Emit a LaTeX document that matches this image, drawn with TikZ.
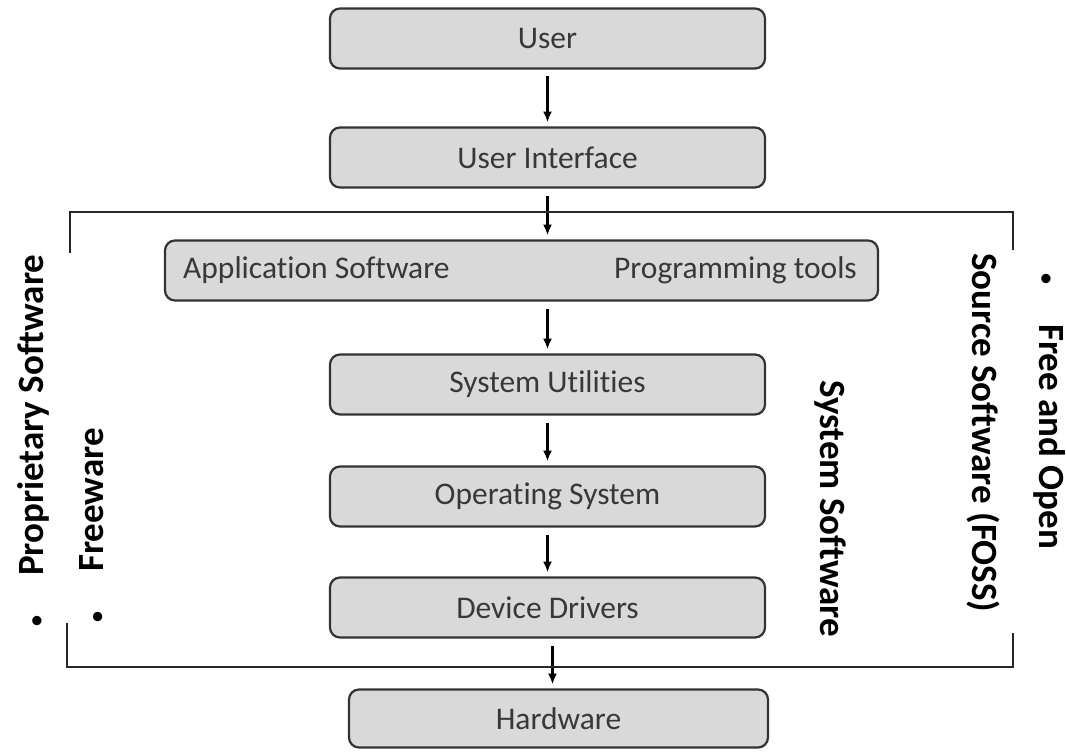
\documentclass[tikz,border=0pt]{standalone}
\usepackage{fontspec}
\setmainfont{Carlito}[Ligatures=NoCommon]
\usetikzlibrary{positioning,arrows.meta}
\definecolor{boxfill}{HTML}{D9D9D9}
\definecolor{boxline}{HTML}{333333}
\definecolor{boxtext}{HTML}{383838}
\newcommand{\smallbullet}{{\fontsize{22}{22}\selectfont\textbullet}}
\tikzset{
>={Latex[length=11pt,width=9pt]},
  layerbox/.style={
    rectangle,
    rounded corners=10pt,
    fill=boxfill,
    draw=boxline, line width=2.2pt,
    text=boxtext,
    minimum width=435pt,
    minimum height=60pt,
    inner sep=0pt, outer sep=0pt,
    font=\fontsize{31.5}{38}\selectfont},
  boxlabel/.style={inner sep=0pt, text=boxtext, font=\fontsize{31.5}{38}\selectfont},
  myarrow/.style={draw, line width=2.2pt, ->, shorten <=8pt, shorten >=5pt},
  bracket/.style={draw=black!85, line width=2.8pt},
  sidelabel/.style={inner sep=0pt, text=black, font=\fontsize{37}{44}\selectfont\bfseries},
}
\begin{document}
\begin{tikzpicture}[x=1pt, y=-1pt, node distance=52pt]
    \useasboundingbox (0,0) rectangle (1066,752);

    % layers
    \node[layerbox] (user) at (547.5,38.5) {User};
    \node[layerbox, below=59pt of user] (ui) {User Interface};
    \node[layerbox, minimum width=713pt, below=53pt of ui, xshift=-26pt] (apps) {};
    \node[boxlabel, anchor=west] (appsw) at ([xshift=18pt]apps.west) {Application Software};
    \node[boxlabel, anchor=east] (progtools) at ([xshift=-21pt]apps.east) {Programming tools};
    \node[layerbox, below=54pt of apps, xshift=26pt] (sysutil) {System Utilities};
    \node[layerbox, below=52pt of sysutil] (os) {Operating System};
    \node[layerbox, below=51pt of os] (drivers) {Device Drivers};
    \node[layerbox, minimum width=419pt, minimum height=58pt, below=52pt of drivers, xshift=11pt] (hw) {Hardware};

    \draw[myarrow] (user.south) -- (ui.north);
    \draw[myarrow] (ui.south) -- (ui.south |- apps.north);
    \draw[myarrow] (apps.south -| sysutil.north) -- (sysutil.north);
    \draw[myarrow] (sysutil.south) -- (os.north);
    \draw[myarrow] (os.south) -- (drivers.north);
    \draw[myarrow] ([xshift=5pt]drivers.south) -- ([xshift=5pt]drivers.south |- hw.north);

    % brackets
    \coordinate (topL) at (70,253);
    \coordinate (topR) at (1013,250);
    \coordinate (botL) at (67,623);
    \coordinate (botR) at (1013,633);
    \draw[bracket] (topL) |- (1013,212) -- (topR);
    \draw[bracket] (botL) |- (1013,667) -- (botR);

    % side labels
    \node[sidelabel, rotate=90, anchor=west] (propsw) at (33,627) {\smallbullet\hspace{40pt}Proprietary Software};
    \node[sidelabel, rotate=90, anchor=west] (freeware) at (92,623) {\smallbullet\hspace{40pt}Freeware};
    \node[sidelabel, rotate=-90] (syssw) at (830,508.5) {System Software};
    \node[sidelabel, rotate=-90, anchor=west] (foss) at (1050,273) {\smallbullet\hspace{40pt}Free and Open};
    \node[sidelabel, rotate=-90, anchor=west] (fossb) at (983,253) {Source Software (FOSS)};
\end{tikzpicture}
\end{document}
